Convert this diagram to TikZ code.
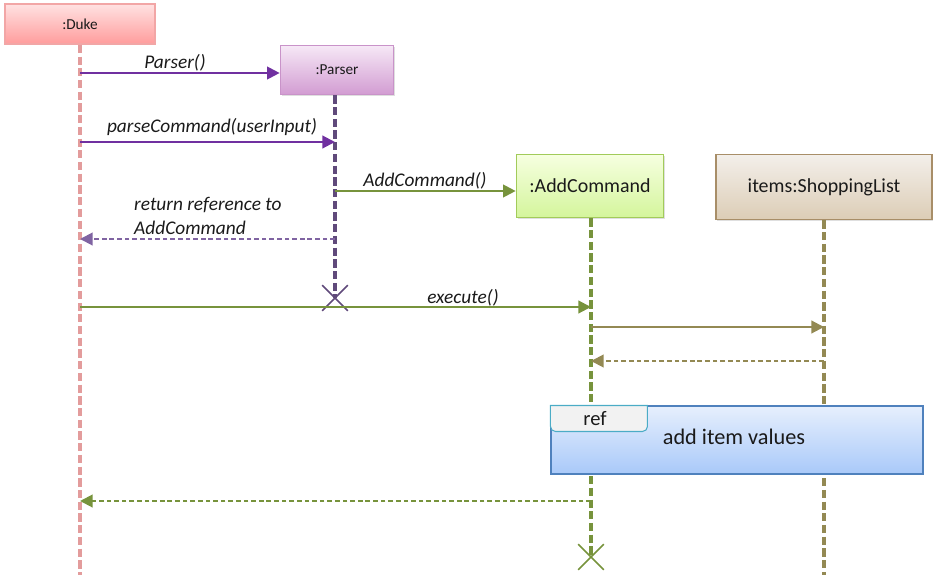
\documentclass[tikz,border=0pt]{standalone}
\usepackage{fontspec}
\setmainfont{Carlito}
\usetikzlibrary{arrows.meta,positioning,calc,shadows,shapes.misc}
\definecolor{Ink}{HTML}{1A1A1A}
\definecolor{DukeTop}{HTML}{FFE2E2}
\definecolor{DukeBot}{HTML}{FF9C9C}
\definecolor{DukeEdge}{HTML}{F2A6A6}
\definecolor{DukeLine}{HTML}{E39C9C}
\definecolor{ParserTop}{HTML}{F6E8F6}
\definecolor{ParserBot}{HTML}{D29CD2}
\definecolor{ParserEdge}{HTML}{C993C9}
\definecolor{ParserLine}{HTML}{604A7B}
\definecolor{AddTop}{HTML}{F6FFE0}
\definecolor{AddBot}{HTML}{D4F59C}
\definecolor{AddEdge}{HTML}{A2CB5A}
\definecolor{AddLine}{HTML}{77933C}
\definecolor{ListTop}{HTML}{F3EFEA}
\definecolor{ListBot}{HTML}{DCCDB6}
\definecolor{ListEdge}{HTML}{A88E68}
\definecolor{ListLine}{HTML}{938953}
\definecolor{CallPurple}{HTML}{7030A0}
\definecolor{BackPurple}{HTML}{8064A2}
\definecolor{RefTop}{HTML}{E6EFFD}
\definecolor{RefBot}{HTML}{A9C9F9}
\definecolor{RefEdge}{HTML}{4F81BD}
\definecolor{TabFill}{HTML}{F2F2F2}
\definecolor{TabEdge}{HTML}{4BACC6}

\begin{document}
\begin{tikzpicture}[x=0.03cm,y=-0.03cm,
  >={Triangle[length=0.38cm,width=0.38cm]},
  obj/.style={rectangle,inner sep=0pt,line width=1.4pt,text=Ink,
    drop shadow={shadow xshift=1.2pt,shadow yshift=-1.2pt,opacity=0.25}},
  lifeline/.style={line width=3.2pt,dash pattern=on 7pt off 3pt},
  call/.style={->,line width=1.8pt},
  back/.style={->,line width=1.7pt,dash pattern=on 4pt off 2.5pt},
  msglabel/.style={font=\itshape\fontsize{16.5}{20.4}\selectfont,text=Ink,inner sep=0pt},
  destroy/.style={cross out,draw,line width=1.4pt,minimum size=0.72cm,inner sep=0pt}]
\useasboundingbox (0,0) rectangle (938,584);

% objects
\node[obj,draw=DukeEdge,top color=DukeTop,bottom color=DukeBot,
  minimum width=4.5cm,minimum height=1.2cm,font=\fontsize{13}{15}\selectfont] (duke) at (80,24) {:Duke};
\node[obj,draw=ParserEdge,top color=ParserTop,bottom color=ParserBot,
  minimum width=3.39cm,minimum height=1.47cm,font=\fontsize{13}{15}\selectfont] (parser) at (337,70) {:Parser};
\node[obj,draw=AddEdge,top color=AddTop,bottom color=AddBot,
  minimum width=4.41cm,minimum height=1.89cm,font=\fontsize{17}{20}\selectfont] (add) at (590,186) {:AddCommand};
\node[obj,draw=ListEdge,top color=ListTop,bottom color=ListBot,
  minimum width=6.48cm,minimum height=1.95cm,font=\fontsize{17}{20}\selectfont] (list) at (824,187) {items:ShoppingList};

% lifelines
\coordinate (bottom) at (0,575);
\node[destroy,draw=ParserLine] (parserEnd) at (335,298) {};
\node[destroy,draw=AddLine] (addEnd) at (591,557) {};
\draw[lifeline,DukeLine] (duke.south) -- (duke.south |- bottom);
\draw[lifeline,ParserLine] (parserEnd.center |- parser.south) -- (parserEnd.center);
\draw[lifeline,AddLine] (addEnd.center |- add.south) -- (addEnd.center);
\draw[lifeline,ListLine] (list.south) -- (list.south |- bottom);

% messages
\coordinate (m1) at (0,73);
\coordinate (m2) at (0,142);
\coordinate (m3) at (0,191);
\coordinate (m4) at (0,239);
\coordinate (m5) at (0,307);
\coordinate (m6) at (0,327);
\coordinate (m7) at (0,361);
\coordinate (m8) at (0,501);
\draw[call,CallPurple] (duke.south |- m1) -- (parser.west |- m1);
\node[msglabel] (l1) at (175,63) {Parser()};
\draw[call,CallPurple] (duke.south |- m2) -- (parserEnd.center |- m2);
\node[msglabel] (l2) at (212,127) {parseCommand(userInput)};
\draw[call,AddLine] (parserEnd.center |- m3) -- (add.west |- m3);
\node[msglabel] (l3) at (425,181) {AddCommand()};
\draw[back,BackPurple] (parserEnd.center |- m4) -- (duke.south |- m4);
\node[msglabel,align=left,anchor=north west] (l4) at (134,197) {return reference to\\AddCommand};
\draw[call,AddLine] (duke.south |- m5) -- (addEnd.center |- m5);
\node[msglabel] (l5) at (463,298) {execute()};
\draw[call,ListLine] (addEnd.center |- m6) -- (list.south |- m6);
\draw[back,ListLine] (list.south |- m7) -- (addEnd.center |- m7);

% interaction use
\node[rectangle,draw=RefEdge,line width=0.9pt,top color=RefTop,bottom color=RefBot,
  minimum width=11.16cm,minimum height=2.04cm,inner sep=0pt,
  drop shadow={shadow xshift=1.2pt,shadow yshift=-1.2pt,opacity=0.25}] (ref) at (737,440) {};
\path[draw=TabEdge,fill=TabFill,line width=0.9pt] (ref.north west) -- ++(97,0) [rounded corners=0.15cm] -- ++(0,26) -- ++(-97,0) [sharp corners] -- cycle;
\node[font=\fontsize{17.5}{20}\selectfont,text=Ink,inner sep=0pt] (refTag) at (595,419) {ref};
\node[font=\fontsize{19}{22}\selectfont,text=Ink,inner sep=0pt] (refText) at (734,437) {add item values};

\draw[back,AddLine] (addEnd.center |- m8) -- (duke.south |- m8);
\end{tikzpicture}
\end{document}
